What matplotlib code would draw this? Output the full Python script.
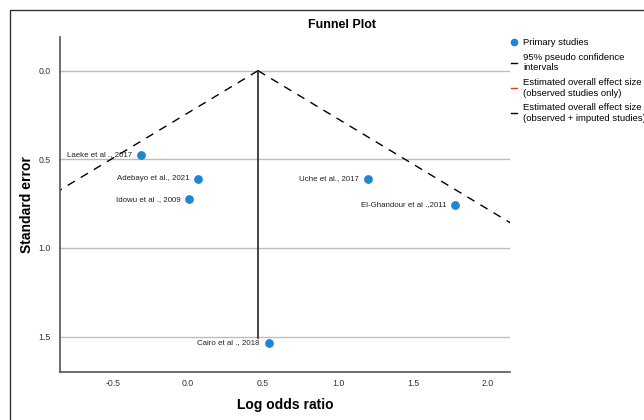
import matplotlib.pyplot as plt
from matplotlib.lines import Line2D
from matplotlib.patches import Rectangle

# Study data (log odds ratio, standard error)
studies = ["Laeke et al ., 2017", "Adebayo et al., 2021", "Idowu et al ., 2009",
           "Uche et al., 2017", "El-Ghandour et al .,2011", "Cairo et al ., 2018"]
log_or = [-0.31, 0.07, 0.01, 1.20, 1.78, 0.54]
std_err = [0.475, 0.61, 0.725, 0.61, 0.758, 1.535]

# Overall effect size and funnel limits
overall_effect = 0.467
effect_se_range = [0.0, 1.51]
funnel_se = [0.0, 1.8]

xticks = [-0.5, 0.0, 0.5, 1.0, 1.5, 2.0]
yticks = [0.0, 0.5, 1.0, 1.5]

plt.rcParams['font.family'] = ['Liberation Sans', 'DejaVu Sans']

fig = plt.figure(figsize=(6.44, 4.2), dpi=100)
ax = fig.add_axes([60 / 644, 1 - 372 / 420, 450 / 644, 335 / 420])

# outer frame (top and left edges visible)
fig.patches.append(Rectangle((10 / 644, -0.1), 1.2, (410 / 420) + 0.1,
                             transform=fig.transFigure, fill=False,
                             edgecolor='#333333', linewidth=1.0))

# horizontal grid lines
for yv in yticks:
    ax.axhline(yv, color='#bdbdbd', linewidth=1.0, zorder=1)

# 95% pseudo confidence limits
left_x = [overall_effect - 1.96 * s for s in funnel_se]
right_x = [overall_effect + 1.96 * s for s in funnel_se]
ax.plot(left_x, funnel_se, color='black', linestyle=(0, (6, 5)), linewidth=1.0, zorder=2)
ax.plot(right_x, funnel_se, color='black', linestyle=(0, (6, 5)), linewidth=1.0, zorder=2)

# overall effect line
ax.plot([overall_effect, overall_effect], effect_se_range, color='#2b2222', linewidth=1.2, zorder=2)

# studies
ax.scatter(log_or, std_err, s=28, color='#1f86d1', zorder=4)
for name, x, y in zip(studies, log_or, std_err):
    ax.annotate(name, (x, y), xytext=(-6.5, 0), textcoords='offset points',
                ha='right', va='center', fontsize=5.7, color='#222222', zorder=5)

ax.set_xlim(-0.853, 2.147)
ax.set_ylim(1.70, -0.19)
ax.set_xticks(xticks)
ax.set_yticks(yticks)
ax.set_xticklabels([f"{v:.1f}" for v in xticks])
ax.set_yticklabels([f"{v:.1f}" for v in yticks])
ax.tick_params(length=0, labelsize=6.3, colors='#333333')
ax.tick_params(axis='x', pad=5)
ax.tick_params(axis='y', pad=7)

for side in ['top', 'right']:
    ax.spines[side].set_visible(False)
for side in ['left', 'bottom']:
    ax.spines[side].set_color('#555555')
    ax.spines[side].set_linewidth(1.2)

ax.set_xlabel("Log odds ratio", fontsize=10, fontweight='bold')
ax.set_ylabel("Standard error", fontsize=10, fontweight='bold')
ax.xaxis.set_label_coords(0.5, -(398 - 372) / 335)
ax.yaxis.set_label_coords(-(60 - 34) / 450, 0.5)
fig.text(342 / 644, 1 - 25 / 420, "Funnel Plot", ha='center', va='center',
         fontsize=9, fontweight='bold')

# legend
handles = [
    Line2D([], [], marker='o', linestyle='none', color='#1f86d1', markersize=4.5),
    Line2D([], [], color='black', linewidth=1.0),
    Line2D([], [], color='#e0402a', linewidth=1.0),
    Line2D([], [], color='black', linewidth=1.0),
]
labels = ["Primary studies",
          "95% pseudo confidence\nintervals",
          "Estimated overall effect size\n(observed studies only)",
          "Estimated overall effect size\n(observed + imputed studies)"]
fig.legend(handles, labels, loc='upper left', bbox_to_anchor=(511 / 644, 1 - 38 / 420),
           frameon=False, fontsize=6.8, handlelength=0.6, handletextpad=0.7,
           labelspacing=0.62, borderaxespad=0, borderpad=0)

fig.savefig("out.png", dpi=100)
